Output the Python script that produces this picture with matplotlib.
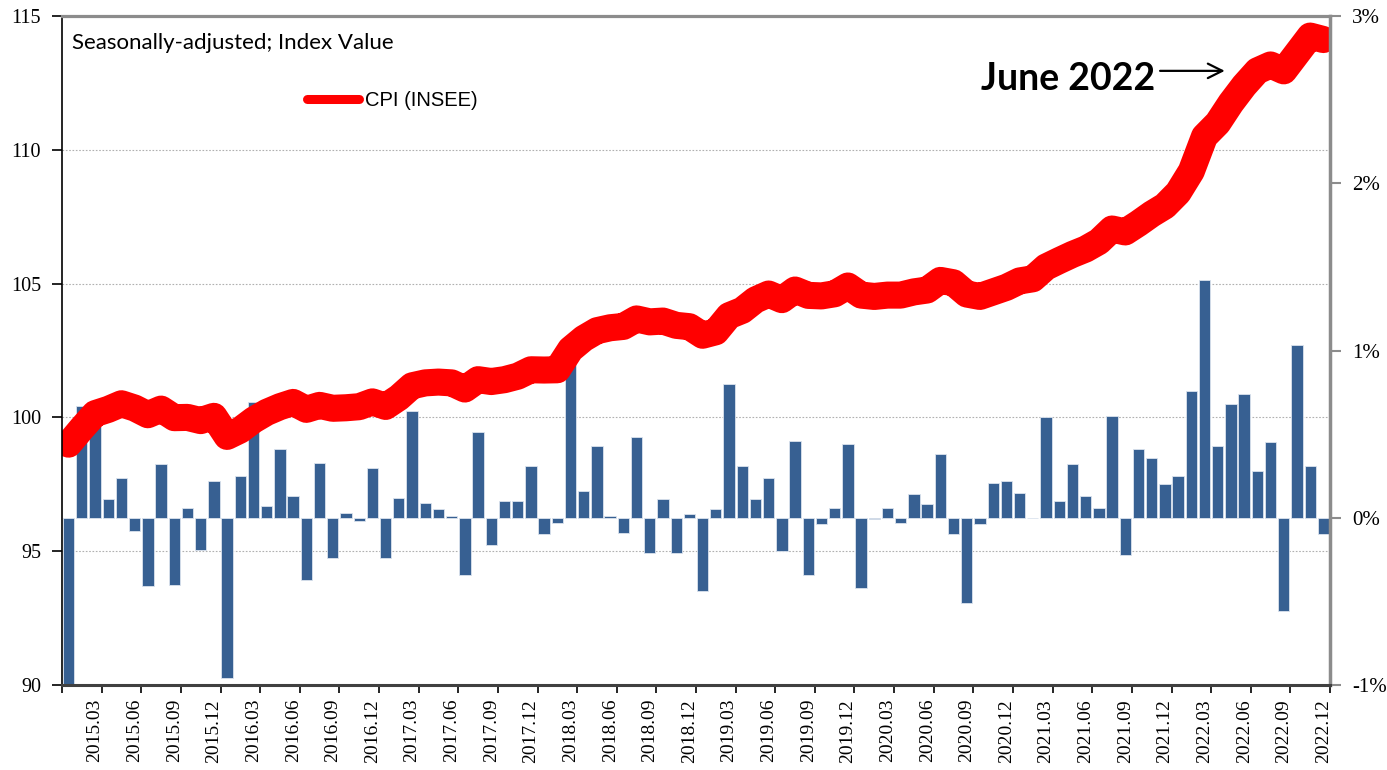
import matplotlib.pyplot as plt
import numpy as np
from matplotlib.lines import Line2D

plt.rcParams['font.family'] = ['Liberation Serif', 'DejaVu Serif']

# monthly labels, Jan 2015 .. Dec 2022
months = [f"{y}.{m:02d}" for y in range(2015, 2023) for m in range(1, 13)]

# month-on-month change, % (right axis)
mom = [
    -1.00, 0.67, 0.58, 0.11, 0.24, -0.08, -0.41, 0.32, -0.40, 0.06, -0.19, 0.22,
    -0.96, 0.25, 0.69, 0.07, 0.41, 0.13, -0.37, 0.33, -0.24, 0.03, -0.02, 0.30,
    -0.24, 0.12, 0.64, 0.09, 0.05, 0.01, -0.34, 0.51, -0.16, 0.10, 0.10, 0.31,
    -0.10, -0.03, 1.00, 0.16, 0.43, 0.01, -0.09, 0.48, -0.21, 0.11, -0.21, 0.02,
    -0.44, 0.05, 0.80, 0.31, 0.11, 0.24, -0.20, 0.46, -0.34, -0.04, 0.06, 0.44,
    -0.42, -0.01, 0.06, -0.03, 0.14, 0.08, 0.38, -0.10, -0.51, -0.04, 0.21, 0.22,
    0.15, 0.00, 0.60, 0.10, 0.32, 0.13, 0.06, 0.61, -0.22, 0.41, 0.36, 0.20,
    0.25, 0.76, 1.42, 0.43, 0.68, 0.74, 0.28, 0.45, -0.56, 1.03, 0.31, -0.10,
]

# CPI index level, seasonally adjusted (left axis)
cpi = [
    99.00, 99.59, 100.14, 100.30, 100.51, 100.35, 100.10, 100.31, 99.99, 100.00, 99.88, 100.04,
    99.29, 99.53, 99.90, 100.19, 100.40, 100.56, 100.30, 100.45, 100.34, 100.36, 100.40, 100.58,
    100.41, 100.74, 101.18, 101.29, 101.32, 101.29, 101.06, 101.41, 101.34, 101.41, 101.54, 101.78,
    101.77, 101.78, 102.54, 102.95, 103.24, 103.35, 103.40, 103.68, 103.57, 103.60, 103.44, 103.39,
    103.07, 103.20, 103.80, 104.00, 104.39, 104.61, 104.40, 104.76, 104.56, 104.54, 104.62, 104.91,
    104.57, 104.52, 104.57, 104.57, 104.69, 104.76, 105.12, 105.03, 104.61, 104.52, 104.69, 104.86,
    105.10, 105.18, 105.62, 105.86, 106.09, 106.29, 106.57, 107.04, 106.93, 107.25, 107.60, 107.90,
    108.40, 109.20, 110.50, 111.00, 111.75, 112.40, 112.95, 113.17, 112.95, 113.60, 114.25, 114.12,
]

left_ticks = [90, 95, 100, 105, 110, 115]
right_ticks = [-1, 0, 1, 2, 3]

x = np.arange(len(months))

fig = plt.figure(figsize=(13.87, 7.70), dpi=100)
axb = fig.add_axes([62 / 1387, 1 - 685 / 770, 1268 / 1387, 669 / 770])
axl = axb.twinx()

# bars on the right-hand scale
axb.bar(x, mom, width=0.86, color='#376092', edgecolor='#dbe3ee', linewidth=0.6, zorder=2)
axb.set_ylim(right_ticks[0], right_ticks[-1])
axb.set_xlim(-0.5, len(months) - 0.5)

# gridlines belong to the left scale, drawn behind the bars
lo, hi = left_ticks[0], left_ticks[-1]
rlo, rhi = right_ticks[0], right_ticks[-1]
for v in left_ticks[1:-1]:
    axb.axhline(rlo + (v - lo) * (rhi - rlo) / (hi - lo), color='#b0b0b0',
                ls=(0, (1.5, 1.5)), lw=0.8, zorder=1)

axb.yaxis.tick_right()
axb.set_yticks(right_ticks)
axb.set_yticklabels([f"{v}%" for v in right_ticks])
axb.tick_params(axis='y', direction='out', length=8, width=1.5, color='#8c8c8c',
                pad=8, labelsize=15)

axb.set_xticks(x[2::3])
axb.set_xticklabels(months[2::3], rotation=90, fontsize=14)
axb.set_xticks(np.arange(-0.5, len(months), 3), minor=True)
axb.tick_params(axis='x', which='major', length=0, pad=10)
axb.tick_params(axis='x', which='minor', length=6, width=1.2, color='black', direction='out')
for s in axb.spines.values():
    s.set_visible(False)

# CPI line on the left-hand scale
axl.plot(x, cpi, color='#ff0000', lw=19.5, solid_capstyle='round', solid_joinstyle='round')
axl.set_ylim(lo, hi)
axl.yaxis.tick_left()
axl.set_yticks(left_ticks)
axl.tick_params(axis='y', direction='out', length=7, width=1.2, color='black',
                pad=8, labelsize=14.5)

axl.spines['left'].set_color('black')
axl.spines['left'].set_linewidth(1.2)
axl.spines['bottom'].set_color('#404040')
axl.spines['bottom'].set_linewidth(2.2)
axl.spines['top'].set_color('#8c8c8c')
axl.spines['top'].set_linewidth(2.3)
axl.spines['right'].set_color('#8c8c8c')
axl.spines['right'].set_linewidth(2.5)

axl.text(0.008, 0.96, "Seasonally-adjusted; Index Value", transform=axl.transAxes,
         fontsize=16, family='Lato', va='center', ha='left')

handle = Line2D([], [], color='#ff0000', lw=6.5, solid_capstyle='round')
axl.legend([handle], ['CPI (INSEE)'], loc='center left', bbox_to_anchor=(0.193, 0.874),
           frameon=False, handlelength=2.6, handletextpad=0.3, borderpad=0,
           borderaxespad=0, prop={'family': 'Liberation Sans', 'size': 14.5})

axl.text(0.862, 0.906, "June 2022", transform=axl.transAxes, fontsize=27,
         fontweight='bold', family='Lato', ha='right', va='center')
axl.annotate('', xy=(0.917, 0.918), xytext=(0.866, 0.918), xycoords='axes fraction',
             textcoords='axes fraction',
             arrowprops=dict(arrowstyle='->', color='black', lw=1.6,
                             shrinkA=0, shrinkB=0, mutation_scale=26))

fig.savefig('out.png', dpi=100)
